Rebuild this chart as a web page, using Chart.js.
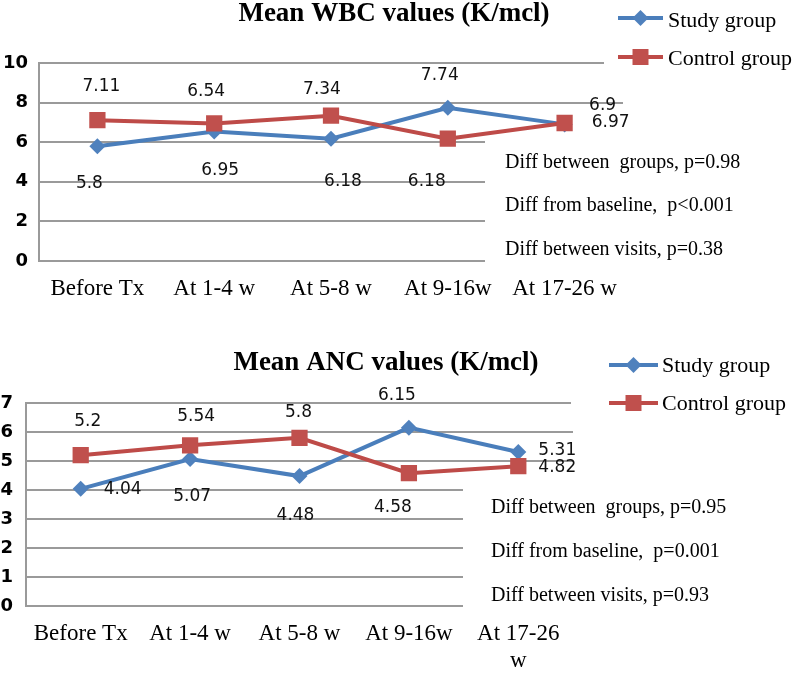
<!DOCTYPE html>
<html><head><meta charset="utf-8">
<script src="https://cdn.jsdelivr.net/npm/chart.js@4.4.1/dist/chart.umd.min.js"></script>
<style>html,body{margin:0;padding:0;background:#fff;}canvas{display:block;}</style>
</head><body>
<canvas id="wbc" width="800" height="320"></canvas>
<canvas id="anc" width="800" height="354"></canvas>
<script>
// ---------- DATA ----------
const wbcCategories = ['Before Tx', 'At 1-4 w', 'At 5-8 w', 'At 9-16w', 'At 17-26 w'];
const ancCategories = ['Before Tx', 'At 1-4 w', 'At 5-8 w', 'At 9-16w', ['At 17-26', 'w']];
const seriesNames = ['Study group', 'Control group'];
const wbcStudy   = [5.8, 6.54, 6.18, 7.74, 6.9];
const wbcControl = [7.11, 6.95, 7.34, 6.18, 6.97];
const ancStudy   = [4.04, 5.07, 4.48, 6.15, 5.31];
const ancControl = [5.2, 5.54, 5.8, 4.58, 4.82];
const wbcTicks = [0, 2, 4, 6, 8, 10];
const ancTicks = [0, 1, 2, 3, 4, 5, 6, 7];
const wbcTitle = 'Mean WBC values (K/mcl)';
const ancTitle = 'Mean ANC values (K/mcl)';
const wbcNotes = ['Diff between  groups, p=0.98', 'Diff from baseline,  p<0.001', 'Diff between visits, p=0.38'];
const ancNotes = ['Diff between  groups, p=0.95', 'Diff from baseline,  p=0.001', 'Diff between visits, p=0.93'];

// ---------- STYLE / LAYOUT ----------
const BLUE = '#4A7EBB', BLUE_M = '#4F81BD', RED = '#BE4B48', RED_M = '#C0504D';
const GRID = '#9a9a9a';
const SERIF = '"Liberation Serif", "Times New Roman", serif';
const SANS = '"DejaVu Sans", Verdana, sans-serif';

const wbcLayout = {
  H: 320, left: 39, right: 623, top: 63, bottom: 261, tickPad: 11,
  title: {x: 394, y: 21},
  legend: {x1: 618, x2: 663, tx: 668, rows: [[18, 27], [57, 65]], box: [604, 0, 196, 76]},
  notes: {x: 505, ys: [168, 211, 255], box: [485, 140, 315, 130]},
  studyOff:   [[-8, 37], [-8, -40], [12, 43], [-8, -32], [38, -19]],
  controlOff: [[4, -34], [6, 47], [-9, -26], [-21, 43], [46, 0]]
};
const ancLayout = {
  H: 354, left: 26, right: 573, top: 83, bottom: 286, tickPad: 13,
  title: {x: 386, y: 50},
  legend: {x1: 609, x2: 658, tx: 662, rows: [[45, 52], [83, 90]], box: [571, 0, 229, 100]},
  notes: {x: 491, ys: [193, 237, 281], box: [463, 155, 337, 140]},
  studyOff:   [[42, 1], [2, 38], [-4, 39], [-12, -32], [39, -1]],
  controlOff: [[7, -34], [6, -29], [-1, -25], [-16, 34], [39, 1]]
};

function drawMarker(ctx, style, x, y, s) {
  ctx.beginPath();
  if (style === 'diamond') {
    ctx.fillStyle = BLUE_M;
    ctx.moveTo(x, y - s); ctx.lineTo(x + s, y); ctx.lineTo(x, y + s); ctx.lineTo(x - s, y);
  } else {
    ctx.fillStyle = RED_M;
    ctx.rect(x - s, y - s, 2 * s, 2 * s);
  }
  ctx.closePath(); ctx.fill();
}

function decorPlugin(L, title, notes) {
  return {
    id: 'decor',
    beforeDatasetsDraw(chart) {
      const ctx = chart.ctx;
      ctx.save();
      ctx.fillStyle = '#fff';
      ctx.fillRect(...L.notes.box);
      ctx.fillRect(...L.legend.box);
      ctx.fillStyle = '#000';
      ctx.font = '20px ' + SERIF;
      ctx.textAlign = 'left'; ctx.textBaseline = 'alphabetic';
      notes.forEach((t, i) => ctx.fillText(t, L.notes.x, L.notes.ys[i]));
      ctx.restore();
    },
    afterDatasetsDraw(chart) {
      const ctx = chart.ctx;
      ctx.save();
      ctx.font = '17px ' + SANS;
      ctx.fillStyle = '#111';
      ctx.textAlign = 'center'; ctx.textBaseline = 'middle';
      chart.data.datasets.forEach((ds, di) => {
        const meta = chart.getDatasetMeta(di);
        const offs = ds.label === seriesNames[0] ? L.studyOff : L.controlOff;
        meta.data.forEach((pt, i) => {
          ctx.fillText(String(ds.data[i]), pt.x + offs[i][0], pt.y + offs[i][1]);
        });
      });
      ctx.restore();
    },
    afterDraw(chart) {
      const ctx = chart.ctx;
      ctx.save();
      ctx.fillStyle = '#000';
      ctx.font = 'bold 27px ' + SERIF;
      ctx.textAlign = 'center'; ctx.textBaseline = 'alphabetic';
      ctx.fillText(title, L.title.x, L.title.y);
      // legend
      ctx.font = '22px ' + SERIF;
      ctx.textAlign = 'left';
      [[BLUE, 'diamond', 8], [RED, 'square', 8]].forEach((s, i) => {
        const [ly, ty] = L.legend.rows[i];
        ctx.strokeStyle = s[0]; ctx.lineWidth = 4;
        ctx.beginPath(); ctx.moveTo(L.legend.x1, ly); ctx.lineTo(L.legend.x2, ly); ctx.stroke();
        drawMarker(ctx, s[1], (L.legend.x1 + L.legend.x2) / 2, ly, s[2]);
        ctx.fillStyle = '#000';
        ctx.fillText(seriesNames[i], L.legend.tx, ty);
      });
      ctx.restore();
    }
  };
}

function makeChart(id, cats, study, control, ticks, L, title, notes) {
  const W = 800;
  return new Chart(document.getElementById(id), {
    type: 'line',
    data: {
      labels: cats,
      datasets: [
        {label: seriesNames[0], data: study, borderColor: BLUE, backgroundColor: BLUE_M,
         borderWidth: 4, pointStyle: 'rectRot', pointRadius: 8, pointBorderWidth: 0,
         pointBackgroundColor: BLUE_M, tension: 0, order: 1},
        {label: seriesNames[1], data: control, borderColor: RED, backgroundColor: RED_M,
         borderWidth: 4, pointStyle: 'rect', pointRadius: 11.5, pointBorderWidth: 0,
         pointBackgroundColor: RED_M, tension: 0, order: 0}
      ]
    },
    options: {
      responsive: false, animation: false, devicePixelRatio: 1,
      layout: {padding: {left: 0, top: L.top, right: W - L.right, bottom: 0}},
      plugins: {legend: {display: false}, title: {display: false}, tooltip: {enabled: false}},
      scales: {
        x: {
          offset: true,
          grid: {display: false, drawTicks: false},
          border: {display: true, color: GRID, width: 2},
          ticks: {color: '#000', font: {family: SERIF, size: 23}, padding: 14,
                  maxRotation: 0, autoSkip: false},
          afterFit(s) { s.height = L.H - L.bottom; }
        },
        y: {
          min: ticks[0], max: ticks[ticks.length - 1],
          afterBuildTicks(s) { s.ticks = ticks.map(v => ({value: v})); },
          grid: {color: GRID, lineWidth: 2, drawTicks: false},
          border: {display: true, color: GRID, width: 2},
          ticks: {color: '#000', font: {family: SANS, size: 18, weight: 'bold'}, padding: L.tickPad},
          afterFit(s) { s.width = L.left; }
        }
      }
    },
    plugins: [decorPlugin(L, title, notes)]
  });
}

makeChart('wbc', wbcCategories, wbcStudy, wbcControl, wbcTicks, wbcLayout, wbcTitle, wbcNotes);
makeChart('anc', ancCategories, ancStudy, ancControl, ancTicks, ancLayout, ancTitle, ancNotes);
</script>
</body></html>
